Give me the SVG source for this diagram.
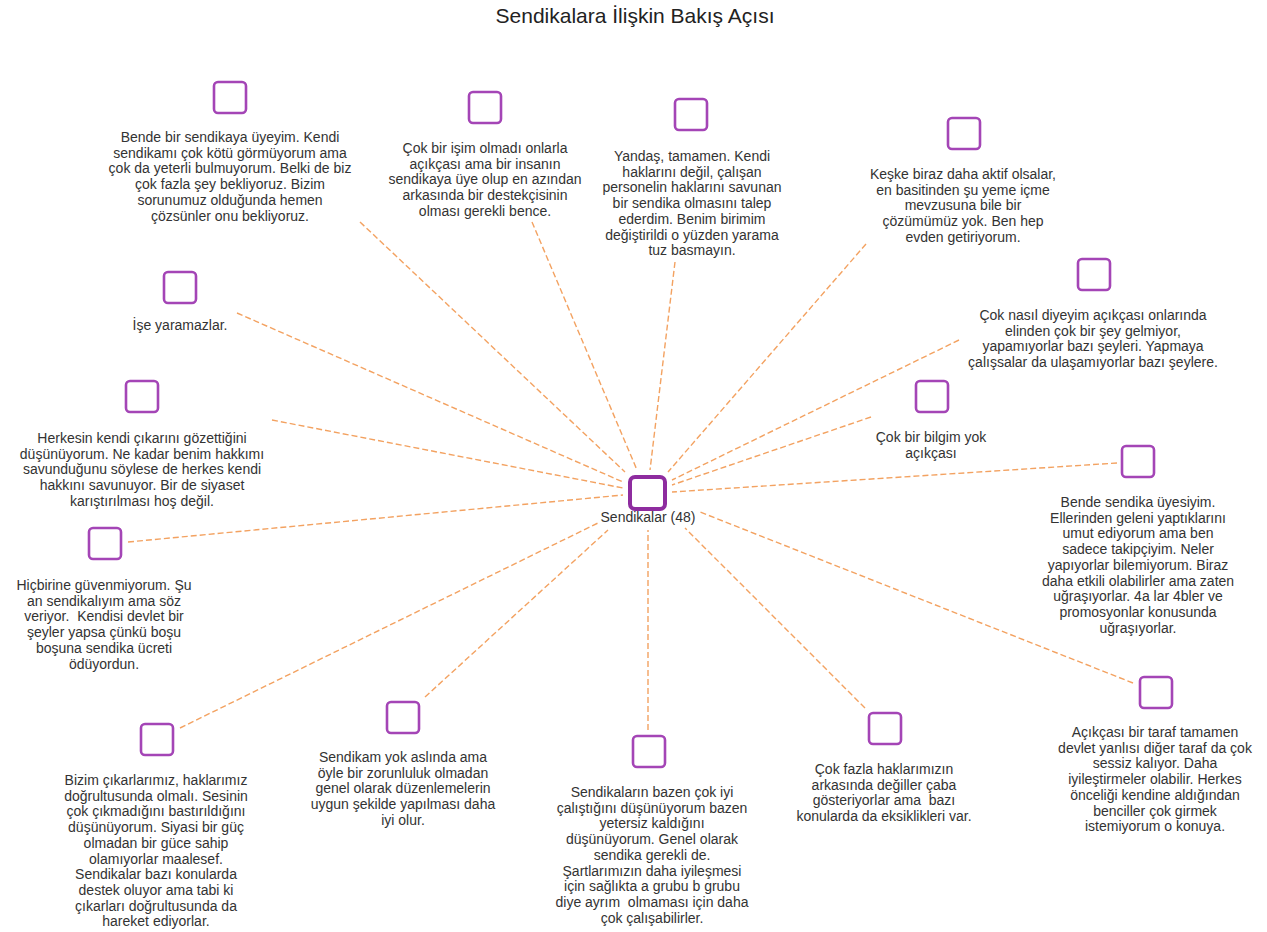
<svg xmlns="http://www.w3.org/2000/svg" width="1267" height="932" viewBox="0 0 1267 932">
<style>
.t{font-family:"Liberation Sans",Arial,sans-serif;font-size:14px;fill:#333;text-anchor:middle;white-space:pre}
.title{font-family:"Liberation Sans",Arial,sans-serif;font-size:21px;fill:#222;text-anchor:middle}
.box{fill:#fff;stroke:#a445b6;stroke-width:2.6}
.hub{fill:#fff;stroke:#8e2c9f;stroke-width:4}
.ln{stroke:#f3a261;stroke-width:1.4;stroke-dasharray:6 3;fill:none}
</style>
<rect width="1267" height="932" fill="#fff"/>
<text class="title" x="635" y="23">Sendikalara İlişkin Bakış Açısı</text>
<g id="connectors">
<line class="ln" x1="360" y1="222" x2="625" y2="472"/>
<line class="ln" x1="532" y1="222" x2="637" y2="470"/>
<line class="ln" x1="675" y1="262" x2="650" y2="470"/>
<line class="ln" x1="866" y1="244" x2="668" y2="472"/>
<line class="ln" x1="237" y1="313" x2="623" y2="482"/>
<line class="ln" x1="959" y1="340" x2="672" y2="480"/>
<line class="ln" x1="272" y1="420" x2="623" y2="488"/>
<line class="ln" x1="871" y1="417" x2="672" y2="485"/>
<line class="ln" x1="1117" y1="463" x2="672" y2="492"/>
<line class="ln" x1="128" y1="542" x2="623" y2="495"/>
<line class="ln" x1="1133" y1="683" x2="700" y2="512"/>
<line class="ln" x1="180" y1="728" x2="598" y2="523"/>
<line class="ln" x1="425" y1="697" x2="608" y2="530"/>
<line class="ln" x1="648" y1="730" x2="648" y2="530"/>
<line class="ln" x1="865" y1="708" x2="685" y2="528"/>
</g>
<g id="hub">
<rect class="hub" x="630" y="477" width="35" height="32" rx="5"/>
<text class="t" x="648" y="522">Sendikalar (48)</text>
</g>
<g id="n1">
<rect class="box" x="214" y="82" width="32" height="31" rx="4"/>
<text class="t" x="230" y="142"><tspan x="230">Bende bir sendikaya üyeyim. Kendi</tspan><tspan x="230" dy="15.7">sendikamı çok kötü görmüyorum ama</tspan><tspan x="230" dy="15.7">çok da yeterli bulmuyorum. Belki de biz</tspan><tspan x="230" dy="15.7">çok fazla şey bekliyoruz. Bizim</tspan><tspan x="230" dy="15.7">sorunumuz olduğunda hemen</tspan><tspan x="230" dy="15.7">çözsünler onu bekliyoruz.</tspan></text>
</g>
<g id="n2">
<rect class="box" x="469" y="92" width="32" height="31" rx="4"/>
<text class="t" x="485" y="153"><tspan x="485">Çok bir işim olmadı onlarla</tspan><tspan x="485" dy="15.7">açıkçası ama bir insanın</tspan><tspan x="485" dy="15.7">sendikaya üye olup en azından</tspan><tspan x="485" dy="15.7">arkasında bir destekçisinin</tspan><tspan x="485" dy="15.7">olması gerekli bence.</tspan></text>
</g>
<g id="n3">
<rect class="box" x="675" y="99" width="32" height="31" rx="4"/>
<text class="t" x="692" y="161"><tspan x="692">Yandaş, tamamen. Kendi</tspan><tspan x="692" dy="15.7">haklarını değil, çalışan</tspan><tspan x="692" dy="15.7">personelin haklarını savunan</tspan><tspan x="692" dy="15.7">bir sendika olmasını talep</tspan><tspan x="692" dy="15.7">ederdim. Benim birimim</tspan><tspan x="692" dy="15.7">değiştirildi o yüzden yarama</tspan><tspan x="692" dy="15.7">tuz basmayın.</tspan></text>
</g>
<g id="n4">
<rect class="box" x="948" y="118" width="32" height="31" rx="4"/>
<text class="t" x="963" y="179"><tspan x="963">Keşke biraz daha aktif olsalar,</tspan><tspan x="963" dy="15.7">en basitinden şu yeme içme</tspan><tspan x="963" dy="15.7">mevzusuna bile bir</tspan><tspan x="963" dy="15.7">çözümümüz yok. Ben hep</tspan><tspan x="963" dy="15.7">evden getiriyorum.</tspan></text>
</g>
<g id="n5">
<rect class="box" x="164" y="272" width="32" height="31" rx="4"/>
<text class="t" x="180" y="330">İşe yaramazlar.</text>
</g>
<g id="n6">
<rect class="box" x="1078" y="259" width="32" height="31" rx="4"/>
<text class="t" x="1093" y="320"><tspan x="1093">Çok nasıl diyeyim açıkçası onlarında</tspan><tspan x="1093" dy="15.7">elinden çok bir şey gelmiyor,</tspan><tspan x="1093" dy="15.7">yapamıyorlar bazı şeyleri. Yapmaya</tspan><tspan x="1093" dy="15.7">çalışsalar da ulaşamıyorlar bazı şeylere.</tspan></text>
</g>
<g id="n7">
<rect class="box" x="126" y="381" width="32" height="31" rx="4"/>
<text class="t" x="142" y="443"><tspan x="142">Herkesin kendi çıkarını gözettiğini</tspan><tspan x="142" dy="15.7">düşünüyorum. Ne kadar benim hakkımı</tspan><tspan x="142" dy="15.7">savunduğunu söylese de herkes kendi</tspan><tspan x="142" dy="15.7">hakkını savunuyor. Bir de siyaset</tspan><tspan x="142" dy="15.7">karıştırılması hoş değil.</tspan></text>
</g>
<g id="n8">
<rect class="box" x="916" y="381" width="32" height="31" rx="4"/>
<text class="t" x="931" y="442"><tspan x="931">Çok bir bilgim yok</tspan><tspan x="931" dy="15.7">açıkçası</tspan></text>
</g>
<g id="n9">
<rect class="box" x="1122" y="446" width="32" height="31" rx="4"/>
<text class="t" x="1138" y="507"><tspan x="1138">Bende sendika üyesiyim.</tspan><tspan x="1138" dy="15.7">Ellerinden geleni yaptıklarını</tspan><tspan x="1138" dy="15.7">umut ediyorum ama ben</tspan><tspan x="1138" dy="15.7">sadece takipçiyim. Neler</tspan><tspan x="1138" dy="15.7">yapıyorlar bilemiyorum. Biraz</tspan><tspan x="1138" dy="15.7">daha etkili olabilirler ama zaten</tspan><tspan x="1138" dy="15.7">uğraşıyorlar. 4a lar 4bler ve</tspan><tspan x="1138" dy="15.7">promosyonlar konusunda</tspan><tspan x="1138" dy="15.7">uğraşıyorlar.</tspan></text>
</g>
<g id="n10">
<rect class="box" x="89" y="528" width="32" height="31" rx="4"/>
<text class="t" x="104" y="590"><tspan x="104">Hiçbirine güvenmiyorum. Şu</tspan><tspan x="104" dy="15.7">an sendikalıyım ama söz</tspan><tspan x="104" dy="15.7">veriyor.  Kendisi devlet bir</tspan><tspan x="104" dy="15.7">şeyler yapsa çünkü boşu</tspan><tspan x="104" dy="15.7">boşuna sendika ücreti</tspan><tspan x="104" dy="15.7">ödüyordun.</tspan></text>
</g>
<g id="n11">
<rect class="box" x="1140" y="677" width="32" height="31" rx="4"/>
<text class="t" x="1155" y="737"><tspan x="1155">Açıkçası bir taraf tamamen</tspan><tspan x="1155" dy="15.7">devlet yanlısı diğer taraf da çok</tspan><tspan x="1155" dy="15.7">sessiz kalıyor. Daha</tspan><tspan x="1155" dy="15.7">iyileştirmeler olabilir. Herkes</tspan><tspan x="1155" dy="15.7">önceliği kendine aldığından</tspan><tspan x="1155" dy="15.7">benciller çok girmek</tspan><tspan x="1155" dy="15.7">istemiyorum o konuya.</tspan></text>
</g>
<g id="n12">
<rect class="box" x="141" y="724" width="32" height="31" rx="4"/>
<text class="t" x="156" y="785"><tspan x="156">Bizim çıkarlarımız, haklarımız</tspan><tspan x="156" dy="15.7">doğrultusunda olmalı. Sesinin</tspan><tspan x="156" dy="15.7">çok çıkmadığını bastırıldığını</tspan><tspan x="156" dy="15.7">düşünüyorum. Siyasi bir güç</tspan><tspan x="156" dy="15.7">olmadan bir güce sahip</tspan><tspan x="156" dy="15.7">olamıyorlar maalesef.</tspan><tspan x="156" dy="15.7">Sendikalar bazı konularda</tspan><tspan x="156" dy="15.7">destek oluyor ama tabi ki</tspan><tspan x="156" dy="15.7">çıkarları doğrultusunda da</tspan><tspan x="156" dy="15.7">hareket ediyorlar.</tspan></text>
</g>
<g id="n13">
<rect class="box" x="387" y="702" width="32" height="31" rx="4"/>
<text class="t" x="403" y="762"><tspan x="403">Sendikam yok aslında ama</tspan><tspan x="403" dy="15.7">öyle bir zorunluluk olmadan</tspan><tspan x="403" dy="15.7">genel olarak düzenlemelerin</tspan><tspan x="403" dy="15.7">uygun şekilde yapılması daha</tspan><tspan x="403" dy="15.7">iyi olur.</tspan></text>
</g>
<g id="n14">
<rect class="box" x="633" y="736" width="32" height="31" rx="4"/>
<text class="t" x="652" y="797"><tspan x="652">Sendikaların bazen çok iyi</tspan><tspan x="652" dy="15.7">çalıştığını düşünüyorum bazen</tspan><tspan x="652" dy="15.7">yetersiz kaldığını</tspan><tspan x="652" dy="15.7">düşünüyorum. Genel olarak</tspan><tspan x="652" dy="15.7">sendika gerekli de.</tspan><tspan x="652" dy="15.7">Şartlarımızın daha iyileşmesi</tspan><tspan x="652" dy="15.7">için sağlıkta a grubu b grubu</tspan><tspan x="652" dy="15.7">diye ayrım  olmaması için daha</tspan><tspan x="652" dy="15.7">çok çalışabilirler.</tspan></text>
</g>
<g id="n15">
<rect class="box" x="869" y="713" width="32" height="31" rx="4"/>
<text class="t" x="884" y="774"><tspan x="884">Çok fazla haklarımızın</tspan><tspan x="884" dy="15.7">arkasında değiller çaba</tspan><tspan x="884" dy="15.7">gösteriyorlar ama  bazı</tspan><tspan x="884" dy="15.7">konularda da eksiklikleri var.</tspan></text>
</g>
</svg>
